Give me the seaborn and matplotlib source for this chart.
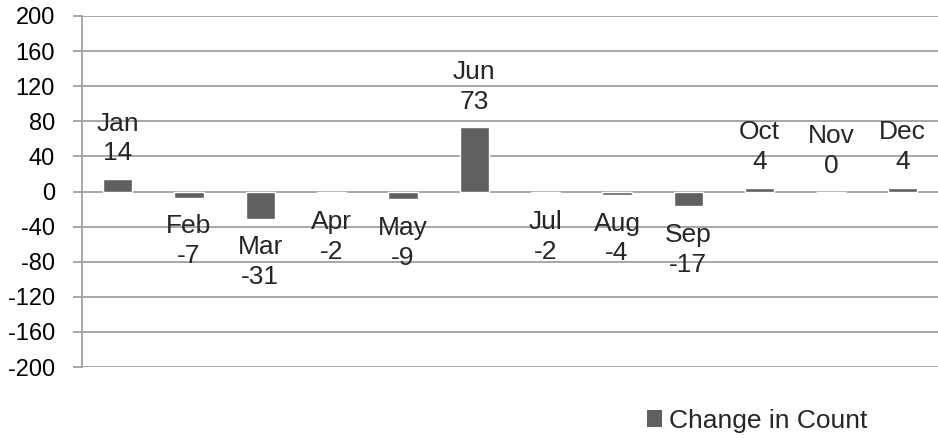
import matplotlib
matplotlib.use("Agg")
import matplotlib.pyplot as plt
import seaborn as sns
import pandas as pd
from matplotlib.patches import Patch

months = ["Jan", "Feb", "Mar", "Apr", "May", "Jun", "Jul", "Aug", "Sep", "Oct", "Nov", "Dec"]
changes = [14, -7, -31, -2, -9, 73, -2, -4, -17, 4, 0, 4]
y_ticks = [-200, -160, -120, -80, -40, 0, 40, 80, 120, 160, 200]
series_name = "Change in Count"

df = pd.DataFrame({"Month": months, "Change": changes})

sns.set_theme(style="white")
plt.rcParams["font.family"] = ["Liberation Sans", "DejaVu Sans"]

fig = plt.figure(figsize=(9.38, 4.38), dpi=100)
ax = fig.add_axes([0.0874, 0.162, 0.9126, 0.8015])

bar_color = "#606060"
sns.barplot(data=df, x="Month", y="Change", color=bar_color, width=0.41,
            saturation=1, ax=ax, zorder=3)

ax.set_ylim(-200, 200)
ax.set_xlim(-0.5, len(months) - 0.5)
ax.set_yticks(y_ticks)
ax.set_yticklabels([str(t) for t in y_ticks], fontsize=17, color="black")
ax.set_xticks([])
ax.set_xlabel("")
ax.set_ylabel("")

grid_color = "#a0a0a0"
for t in y_ticks:
    ax.axhline(t, color=grid_color, linewidth=1.3, zorder=1)

for s in ["top", "right", "bottom"]:
    ax.spines[s].set_visible(False)
ax.spines["left"].set_color(grid_color)
ax.spines["left"].set_linewidth(1.3)
ax.tick_params(axis="y", length=6.5, width=1.3, color=grid_color, pad=13, left=True)

for i, (m, v) in enumerate(zip(months, changes)):
    if v >= 0:
        ax.annotate(f"{m}\n{v}", xy=(i, v), xytext=(0, 10), textcoords="offset points",
                    ha="center", va="bottom", fontsize=19, linespacing=1.3, zorder=4)
    else:
        ax.annotate(f"{m}\n{v}", xy=(i, v), xytext=(0, -12), textcoords="offset points",
                    ha="center", va="top", fontsize=19, linespacing=1.3, zorder=4)

handle = Patch(facecolor=bar_color, edgecolor="none", label=series_name)
fig.legend(handles=[handle], loc="center", bbox_to_anchor=(757 / 938, 1 - 421 / 438),
           frameon=False, fontsize=19, handlelength=0.6, handleheight=0.6,
           handletextpad=0.25, borderpad=0)

fig.savefig("out.png", dpi=100)
